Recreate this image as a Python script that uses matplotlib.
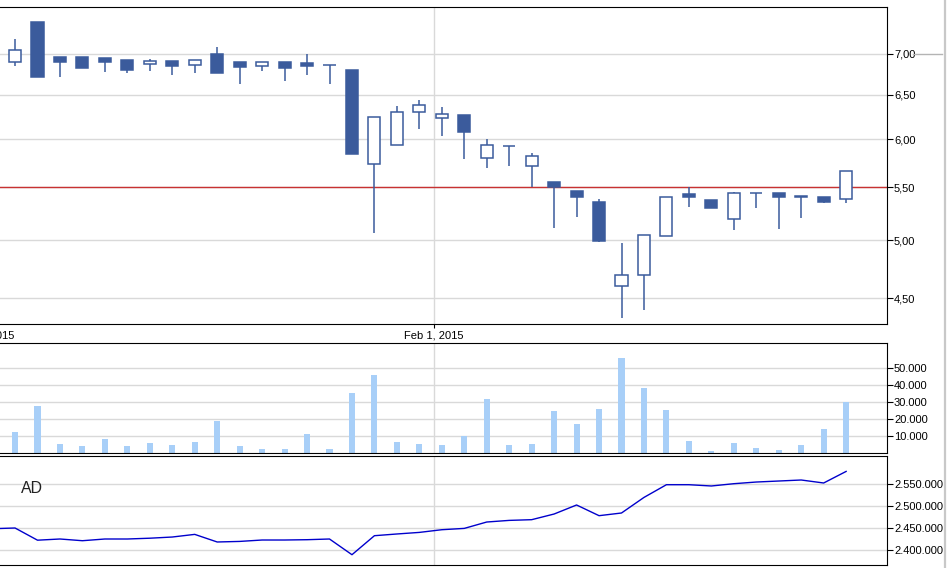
import numpy as np
import matplotlib
matplotlib.use('Agg')
import matplotlib.pyplot as plt
from matplotlib.ticker import FixedLocator, FuncFormatter, NullLocator
from matplotlib.lines import Line2D

# daily OHLC, one entry per trading day
openPrices = [6.90, 7.42, 6.96, 6.96, 6.95, 6.92, 6.87, 6.91, 6.86, 7.00,
              6.90, 6.85, 6.90, 6.89, 6.86, 6.80, 5.74, 5.94, 6.30, 6.23,
              6.27, 5.80, 5.93, 5.72, 5.55, 5.46, 5.36, 4.60, 4.69, 5.04,
              5.43, 5.38, 5.19, 5.44, 5.44, 5.41, 5.40, 5.39]
highPrices = [7.19, 7.42, 6.96, 6.96, 6.95, 6.92, 6.94, 6.91, 6.92, 7.09,
              6.90, 6.90, 6.90, 7.00, 6.86, 6.80, 6.25, 6.37, 6.44, 6.36,
              6.27, 6.00, 5.93, 5.85, 5.55, 5.46, 5.39, 4.97, 5.05, 5.40,
              5.50, 5.38, 5.45, 5.44, 5.44, 5.41, 5.40, 5.67]
lowPrices = [6.85, 6.71, 6.71, 6.83, 6.77, 6.76, 6.79, 6.74, 6.76, 6.76,
             6.63, 6.79, 6.66, 6.74, 6.63, 5.84, 5.06, 5.94, 6.11, 6.03,
             5.79, 5.70, 5.72, 5.50, 5.11, 5.21, 4.98, 4.34, 4.41, 5.04,
             5.31, 5.30, 5.09, 5.30, 5.10, 5.20, 5.35, 5.35]
closePrices = [7.05, 6.71, 6.90, 6.83, 6.90, 6.80, 6.91, 6.85, 6.92, 6.76,
               6.84, 6.90, 6.83, 6.85, 6.86, 5.84, 6.25, 6.30, 6.38, 6.28,
               6.08, 5.94, 5.93, 5.82, 5.50, 5.40, 4.99, 4.69, 5.05, 5.40,
               5.40, 5.30, 5.44, 5.44, 5.40, 5.40, 5.36, 5.66]
volumes = [12500, 27800, 5500, 4300, 8400, 4300, 6100, 4900, 6600, 19000,
           4300, 2500, 2500, 11400, 2500, 35500, 46100, 6600, 5500, 4900,
           10200, 31900, 4900, 5500, 24900, 17200, 26100, 56100, 38400, 25500,
           7200, 1400, 6100, 3100, 1900, 4900, 14300, 30200]
# accumulation/distribution, first value is the day before the visible window
adValues = [2448400, 2450000, 2422300, 2425000, 2421100, 2425000, 2425000,
            2426800, 2429500, 2435500, 2418200, 2419500, 2422700, 2422700,
            2423400, 2425000, 2389300, 2432500, 2436400, 2440000, 2446100,
            2449100, 2463600, 2467300, 2468900, 2481800, 2502300, 2478000,
            2484100, 2519500, 2548400, 2548400, 2545500, 2550700, 2554500,
            2556800, 2559100, 2552300, 2578600]

priceTicks = [4.5, 5.0, 5.5, 6.0, 6.5, 7.0]
volumeTicks = [10000, 20000, 30000, 40000, 50000]
adTicks = [2400000, 2450000, 2500000, 2550000]
dateTickPos = [-1.34, 18.66]
dateTickLabels = ['Jan 1, 2015', 'Feb 1, 2015']
refLevel = 5.5

candleColor = '#3b5b9c'
volumeColor = '#a8cff8'
gridColor = '#d9d9d9'

plt.rcParams['font.family'] = ['Liberation Sans', 'DejaVu Sans']

W, H = 953.0, 568.0
fig = plt.figure(figsize=(W / 100, H / 100), dpi=100)


def panel(top, bottom):
	# pixel box -> axes, left edge hangs off the canvas like the original
	return fig.add_axes([-20 / W, 1 - bottom / H, 907 / W, (bottom - top) / H])


def styleAxis(ax, ticks, fmt):
	ax.set_xlim(-1.56, 38.82)
	ax.yaxis.tick_right()
	ax.yaxis.set_major_locator(FixedLocator(ticks))
	ax.yaxis.set_minor_locator(NullLocator())
	ax.yaxis.set_major_formatter(FuncFormatter(fmt))
	ax.xaxis.set_major_locator(FixedLocator(dateTickPos))
	ax.xaxis.set_minor_locator(NullLocator())
	ax.tick_params(axis='y', which='major', length=4, width=0.8, pad=1, labelsize=8, colors='black')
	ax.grid(True, color=gridColor, linewidth=1)
	ax.set_axisbelow(True)
	for s in ax.spines.values():
		s.set_linewidth(0.8)
		s.set_color('black')


axPrice = panel(7, 324)
axVol = panel(343, 453)
axAd = panel(455.5, 565)

x = np.arange(len(openPrices))

# ---- price panel ----
axPrice.set_yscale('log')
axPrice.set_ylim(4.296, 7.62)
styleAxis(axPrice, priceTicks, lambda v, p: '{:.2f}'.format(v).replace('.', ','))
axPrice.set_xticks(dateTickPos)
axPrice.set_xticklabels(dateTickLabels)
axPrice.tick_params(axis='x', length=3, width=0.8, pad=2, labelsize=8)
axPrice.axhline(refLevel, color='#c83232', linewidth=1, zorder=1.5)

axPrice.vlines(x, lowPrices, highPrices, color=candleColor, linewidth=1.1, zorder=2)
for i in range(len(x)):
	o, c = openPrices[i], closePrices[i]
	bottom = min(o, c)
	height = max(abs(c - o), 1e-4)
	face = 'white' if c >= o else candleColor
	axPrice.bar(x[i], height, bottom=bottom, width=0.54, color=face,
		edgecolor=candleColor, linewidth=1.1, zorder=3)

# ---- volume panel ----
axVol.set_ylim(0, 64700)
styleAxis(axVol, volumeTicks, lambda v, p: '{:,.0f}'.format(v).replace(',', '.'))
axVol.tick_params(axis='x', length=0, labelbottom=False)
axVol.bar(x, volumes, width=0.27, color=volumeColor, zorder=2)

# ---- AD panel ----
axAd.set_ylim(2365900, 2614800)
styleAxis(axAd, adTicks, lambda v, p: '{:,.0f}'.format(v).replace(',', '.'))
axAd.tick_params(axis='x', length=0, labelbottom=False)
axAd.plot(np.arange(-1, len(openPrices)), adValues, color='#0000cc', linewidth=1.0, zorder=2)
axAd.text(41 / 907, 0.70, 'AD', transform=axAd.transAxes, fontsize=11.4,
	color='#222222', ha='left', va='center')

# stray marker line right of the 7,00 label and the frame edge on the right
fig.lines.append(Line2D([913 / W, 942 / W], [1 - 54 / H, 1 - 54 / H],
	transform=fig.transFigure, color='#b4b4b4', linewidth=1))
fig.lines.append(Line2D([945.5 / W, 945.5 / W], [0, 1],
	transform=fig.transFigure, color='#c8c8c8', linewidth=1.6))

fig.savefig('out.png', dpi=100)
